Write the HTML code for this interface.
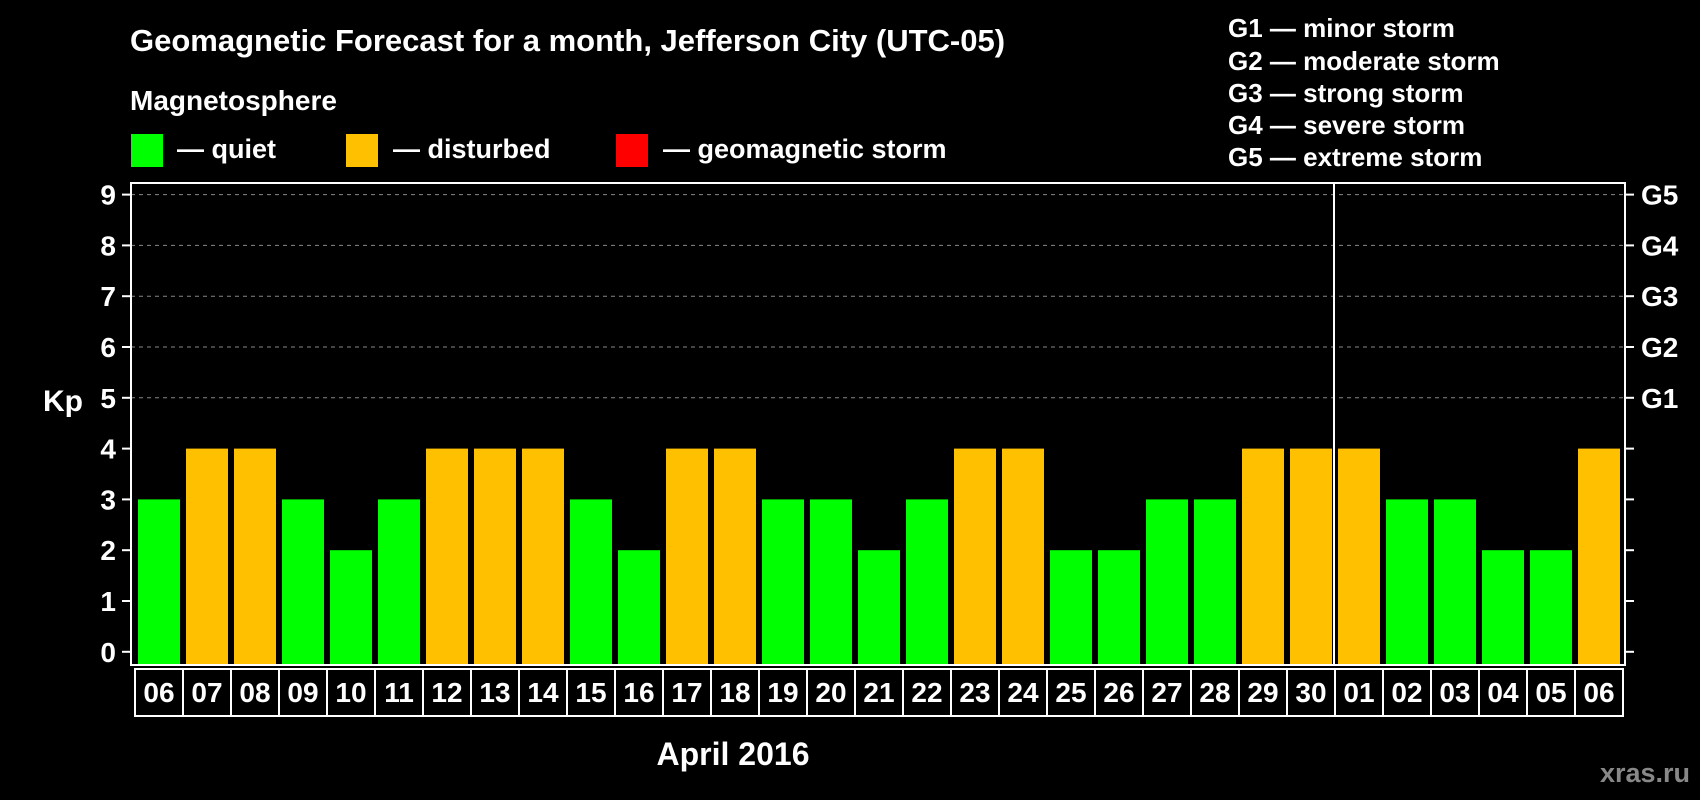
<!DOCTYPE html>
<html><head><meta charset="utf-8"><style>
html,body{margin:0;padding:0;background:#000;width:1700px;height:800px;overflow:hidden}
svg{display:block;font-family:"Liberation Sans",Arial,sans-serif;font-weight:bold}
</style></head><body>
<svg id="chart" width="1700" height="800" viewBox="0 0 1700 800">
<rect width="1700" height="800" fill="#000"/>
<text x="130" y="51" fill="#fff" font-size="31">Geomagnetic Forecast for a month, Jefferson City (UTC-05)</text>
<text x="130" y="110" fill="#fff" font-size="28">Magnetosphere</text>
<g><rect x="131" y="134" width="32" height="33" fill="#00ff00"/><text x="177" y="158" fill="#fff" font-size="27">— quiet</text></g>
<g><rect x="346" y="134" width="32" height="33" fill="#ffc000"/><text x="393" y="158" fill="#fff" font-size="27">— disturbed</text></g>
<g><rect x="616" y="134" width="32" height="33" fill="#ff0000"/><text x="663" y="158" fill="#fff" font-size="27">— geomagnetic storm</text></g>
<g fill="#fff" font-size="26">
<text x="1228" y="37">G1 — minor storm</text>
<text x="1228" y="70">G2 — moderate storm</text>
<text x="1228" y="102">G3 — strong storm</text>
<text x="1228" y="134">G4 — severe storm</text>
<text x="1228" y="166">G5 — extreme storm</text>
</g>
<text x="43" y="411" fill="#fff" font-size="30">Kp</text>
<g id="grid"></g><g id="bars"></g><g id="axes"></g>
<text x="733" y="765" fill="#fff" font-size="32" text-anchor="middle">April 2016</text>
<text x="1690" y="782" fill="#888" font-size="27" text-anchor="end">xras.ru</text>
</svg>
<script>
const days=["06","07","08","09","10","11","12","13","14","15","16","17","18","19","20","21","22","23","24","25","26","27","28","29","30","01","02","03","04","05","06"];
const kpValues=[3,4,4,3,2,3,4,4,4,3,2,4,4,3,3,2,3,4,4,2,2,3,3,4,4,4,3,3,2,2,4];
const yTicks=[0,1,2,3,4,5,6,7,8,9];
const gLabels=["G1","G2","G3","G4","G5"];
const NS="http://www.w3.org/2000/svg";
const L=131,R=1625,T=183,B=665,slot0=135,slotW=48;
const y=v=>651.8-v*50.8;
const x=i=>slot0+i*slotW;
function mk(t,a,p){const e=document.createElementNS(NS,t);for(const k in a)e.setAttribute(k,a[k]);p.appendChild(e);return e;}
const grid=document.getElementById('grid'),bars=document.getElementById('bars'),axes=document.getElementById('axes');
yTicks.forEach(v=>{
  if(v>=5){const g=mk('line',{x1:L,x2:R,y1:y(v),y2:y(v),stroke:'#888','stroke-dasharray':'4 4','stroke-width':1},grid);
  
  }
  const t1=mk('line',{x1:L-9,x2:L,y1:y(v),y2:y(v),stroke:'#fff','stroke-width':2},axes);
  
  
  const t2=mk('line',{x1:R,x2:R+9,y1:y(v),y2:y(v),stroke:'#fff','stroke-width':2},axes);
  
  
  const lb=mk('text',{x:116,y:y(v)+10,fill:'#fff','font-size':28,'text-anchor':'end'},axes);
  lb.textContent=v;
  
  
});
gLabels.forEach((g,i)=>{
  const lb=mk('text',{x:1641,y:y(5+i)+10,fill:'#fff','font-size':28},axes);
  lb.textContent=g;
  
  
});
kpValues.forEach((v,i)=>{
  const r=mk('rect',{x:x(i)+3,y:y(v),width:42,height:B-1-y(v),fill:v>=5?'#ff0000':(v>=4?'#ffc000':'#00ff00')},bars);
  
  
});
const frame=mk('rect',{x:L,y:T,width:R-L,height:B-T,fill:'none',stroke:'#fff','stroke-width':2},axes);


const divX=x(days.indexOf("01"))-1;
const div=mk('line',{x1:divX,x2:divX,y1:T,y2:B,stroke:'#fff','stroke-width':2},axes);


days.forEach((d,i)=>{
  const b=mk('rect',{x:x(i),y:669,width:slotW,height:47,fill:'none',stroke:'#fff','stroke-width':2},axes);
  
  
  const t=mk('text',{x:x(i)+slotW/2,y:702,fill:'#fff','font-size':28,'text-anchor':'middle'},axes);
  t.textContent=d;
  
  
});
</script>
</body></html>
